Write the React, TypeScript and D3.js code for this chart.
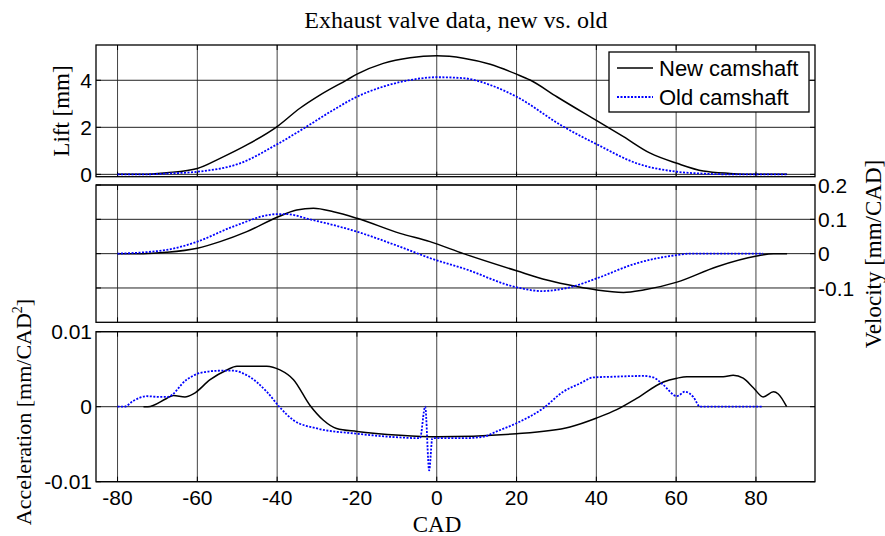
import React from "react";
import * as d3 from "d3";

// ---- data (CAD, value) ----
const xTicks = [-80, -60, -40, -20, 0, 20, 40, 60, 80];
const liftTicks = [0, 2, 4];
const velTicks = [-0.1, 0, 0.1, 0.2];
const accTicks = [-0.01, 0, 0.01];

const newLift: [number, number][] = [
  [-80, 0], [-73.5, 0], [-67.7, 0.07], [-60, 0.25], [-54.3, 0.68], [-47.6, 1.25], [-40, 2.03],
  [-34.3, 2.81], [-29.2, 3.38], [-22.6, 4.01], [-20, 4.26], [-13.4, 4.72], [-6.7, 4.96], [0, 5.04],
  [6.7, 4.94], [13.4, 4.68], [20, 4.26], [23.4, 4.01], [30.1, 3.3], [40.1, 2.28], [46.8, 1.6],
  [53.5, 0.9], [60.2, 0.47], [66.8, 0.14], [73.5, 0.04], [80.2, 0], [87.8, 0],
];
const oldLift: [number, number][] = [
  [-80, 0], [-73.5, 0], [-67, 0.04], [-60, 0.11], [-49.3, 0.47], [-40, 1.28], [-32.6, 2.03],
  [-25.9, 2.74], [-20, 3.3], [-13.4, 3.73], [-6.7, 4.01], [0, 4.13], [6.7, 4.09], [13.4, 3.8],
  [20, 3.3], [31.7, 2.03], [40.1, 1.28], [50.1, 0.47], [60.2, 0.11], [66.8, 0.03], [74, 0], [87.7, 0],
];
const newVel: [number, number][] = [
  [-80, 0], [-73.5, 0], [-67.7, 0.004], [-60, 0.016], [-54.3, 0.035], [-47.6, 0.064], [-40, 0.106],
  [-35.1, 0.127], [-30.9, 0.132], [-25.9, 0.122], [-20, 0.103], [-9.2, 0.059], [-1.7, 0.035],
  [6.7, 0], [20, -0.05], [27.6, -0.077], [35.1, -0.096], [40.1, -0.106], [46.8, -0.113],
  [51.8, -0.106], [60.2, -0.083], [70.2, -0.038], [80.2, -0.007], [84.4, 0], [87.8, 0],
];
const oldVel: [number, number][] = [
  [-80, 0], [-67.7, 0.011], [-60, 0.035], [-51, 0.079], [-40, 0.115], [-37.6, 0.115],
  [-31.8, 0.1], [-20, 0.064], [-9.2, 0.02], [-1.7, -0.013], [6.7, -0.043], [20, -0.098],
  [26.3, -0.109], [33.4, -0.098], [40.1, -0.072], [50.1, -0.028], [60.2, -0.004], [63.5, 0], [81.8, 0],
];
const newAcc: [number, number][] = [
  [-73.5, 0], [-72.4, 0], [-67.7, 0.0011], [-66, 0.0015], [-63.1, 0.0013], [-61, 0.0017],
  [-56.8, 0.0036], [-52.6, 0.0049], [-50.1, 0.0054], [-42.6, 0.0054], [-39.3, 0.0049],
  [-35.9, 0.0036], [-31.8, 0.0002], [-28.4, -0.0018], [-25.1, -0.0029], [-20, -0.0033],
  [-9.2, -0.0038], [0, -0.004], [20, -0.0036], [33.4, -0.0027], [40.1, -0.0015], [45.1, -0.0004],
  [50.1, 0.0011], [56.8, 0.0033], [60.2, 0.0038], [62.7, 0.004], [71.8, 0.004], [74.3, 0.0042],
  [76.8, 0.0038], [79.4, 0.0025], [81.8, 0.0013], [84.4, 0.002], [85.6, 0.0017], [87.7, 0],
];
const oldAcc: [number, number][] = [
  [-80, 0], [-78.3, 0], [-76, 0.0008], [-72.7, 0.0014], [-69.4, 0.0013], [-67.5, 0.0013],
  [-62.7, 0.0036], [-59.3, 0.0045], [-54.3, 0.0048], [-51, 0.0048], [-47.6, 0.0042],
  [-42.6, 0.002], [-39.3, -0.0001], [-35.9, -0.0018], [-30, -0.0029], [-20, -0.0036],
  [-9.2, -0.0041], [-4.2, -0.0042], [-2.9, 0], [-1.9, -0.0085], [-1.1, -0.0042], [6.7, -0.0042],
  [11.7, -0.004], [15, -0.0033], [20, -0.0022], [26.7, -0.0002], [31.7, 0.002], [35.9, 0.0031],
  [39.2, 0.0039], [44.3, 0.004], [51.8, 0.0041], [54.3, 0.0039], [56.8, 0.0029], [60.2, 0.0014],
  [62.2, 0.002], [64.3, 0.0013], [66, 0], [81.8, 0],
];

const SANS = "'Liberation Sans', Arial, sans-serif";
const SERIF = "'Liberation Serif', 'Times New Roman', serif";

const x = d3.scaleLinear().domain([-85.4, 94.8]).range([96, 815]);
const L = 96, R = 815;

type Panel = {
  y: d3.ScaleLinear<number, number>;
  ticks: number[];
  side: "left" | "right";
  fmt: (v: number) => string;
  series: { data: [number, number][]; color: string; dash?: string }[];
  xLabels?: boolean;
};

const fmtNum = (v: number) => (v === 0 ? "0" : String(v));

const panels: Panel[] = [
  {
    y: d3.scaleLinear().domain([-0.1, 5.5]).range([176.7, 45]),
    ticks: liftTicks, side: "left", fmt: fmtNum,
    series: [
      { data: newLift, color: "#000" },
      { data: oldLift, color: "#0000ff", dash: "2,1.5" },
    ],
  },
  {
    y: d3.scaleLinear().domain([-0.2, 0.2]).range([322.3, 185]),
    ticks: velTicks, side: "right", fmt: fmtNum,
    series: [
      { data: newVel, color: "#000" },
      { data: oldVel, color: "#0000ff", dash: "2,1.5" },
    ],
  },
  {
    y: d3.scaleLinear().domain([-0.01, 0.01]).range([481.7, 331.7]),
    ticks: accTicks, side: "left", fmt: fmtNum, xLabels: true,
    series: [
      { data: newAcc, color: "#000" },
      { data: oldAcc, color: "#0000ff", dash: "2,1.5" },
    ],
  },
];

function PanelView({ p }: { p: Panel }) {
  const [y0, y1] = p.y.range();
  const top = Math.min(y0, y1), bot = Math.max(y0, y1);
  const line = d3.line<[number, number]>()
    .x((d) => x(d[0]))
    .y((d) => p.y(d[1]))
    .curve(d3.curveMonotoneX);
  return (
    <g>
      {xTicks.map((t) => (
        <line key={"vx" + t} x1={x(t)} x2={x(t)} y1={top} y2={bot} stroke="#444" strokeWidth={1} />
      ))}
      {p.ticks.map((t) => (
        <line key={"hy" + t} x1={L} x2={R} y1={p.y(t)} y2={p.y(t)} stroke="#222" strokeWidth={1} />
      ))}
      {xTicks.map((t) => (
        <g key={"tx" + t}>
          <line x1={x(t)} x2={x(t)} y1={bot} y2={bot - 5} stroke="#000" />
          <line x1={x(t)} x2={x(t)} y1={top} y2={top + 5} stroke="#000" />
        </g>
      ))}
      {p.ticks.map((t) => (
        <g key={"ty" + t}>
          <line x1={L} x2={L + 5} y1={p.y(t)} y2={p.y(t)} stroke="#000" />
          <line x1={R} x2={R - 5} y1={p.y(t)} y2={p.y(t)} stroke="#000" />
        </g>
      ))}
      {p.series.map((s, i) => (
        <path key={i} d={line(s.data) || ""} fill="none" stroke={s.color}
          strokeWidth={s.dash ? 1.8 : 1.5} strokeDasharray={s.dash} />
      ))}
      <rect x={L} y={top} width={R - L} height={bot - top} fill="none" stroke="#000" strokeWidth={1.3} />
      {p.ticks.map((t) => (
        <text key={"lab" + t}
          x={p.side === "left" ? 92 : 818}
          y={p.y(t)} dy="0.36em"
          textAnchor={p.side === "left" ? "end" : "start"}
          fontFamily={SANS} fontSize={21}>
          {p.fmt(t)}
        </text>
      ))}
      {p.xLabels && xTicks.map((t) => (
        <text key={"xl" + t} x={x(t)} y={505} textAnchor="middle" fontFamily={SANS} fontSize={21}>
          {t}
        </text>
      ))}
    </g>
  );
}

export default function App() {
  return (
    <svg width={885} height={536} style={{ position: "absolute", left: 0, top: 0, background: "#fff" }}>
      <rect width={885} height={536} fill="#fff" />
      {panels.map((p, i) => <PanelView key={i} p={p} />)}
      <text x={456} y={28} textAnchor="middle" fontFamily={SERIF} fontSize={24}>
        Exhaust valve data, new vs. old
      </text>
      <text x={437} y={532} textAnchor="middle" fontFamily={SERIF} fontSize={23}>CAD</text>
      <text transform="translate(69,111) rotate(-90)" textAnchor="middle" fontFamily={SERIF} fontSize={23}>
        Lift [mm]
      </text>
      <text transform="translate(881,254) rotate(-90)" textAnchor="middle" fontFamily={SERIF} fontSize={23}>
        Velocity [mm/CAD]
      </text>
      <text transform="translate(31,412) rotate(-90)" textAnchor="middle" fontFamily={SERIF} fontSize={22}>
        Acceleration [mm/CAD<tspan dy={-9} fontSize={14}>2</tspan><tspan dy={9}>]</tspan>
      </text>
      <g>
        <rect x={609} y={52} width={200} height={60} fill="#fff" stroke="#000" strokeWidth={1.3} />
        <line x1={617} x2={653} y1={68} y2={68} stroke="#000" strokeWidth={1.5} />
        <text x={659} y={68} dy="0.36em" fontFamily={SANS} fontSize={22}>New camshaft</text>
        <line x1={617} x2={653} y1={97} y2={97} stroke="#0000ff" strokeWidth={1.8} strokeDasharray="2,1.5" />
        <text x={659} y={97} dy="0.36em" fontFamily={SANS} fontSize={22}>Old camshaft</text>
      </g>
    </svg>
  );
}
